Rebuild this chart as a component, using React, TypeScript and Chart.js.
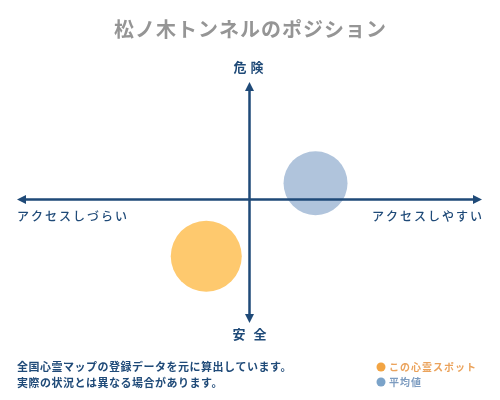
import React, { useRef, useEffect } from 'react';
import { Chart, registerables, ChartConfiguration, Plugin } from 'chart.js';

Chart.register(...registerables);

// Values (x: ease of access, y: danger)
const SERIES_LABELS = ['この心霊スポット', '平均値'];
const ACCESS_VALUES = [-18.6, 28.4];
const DANGER_VALUES = [-48.2, 13.9];

const TITLE = '松ノ木トンネルのポジション';
const Y_AXIS_LABELS = ['危険', '安全'];
const X_AXIS_LABELS = ['アクセスしづらい', 'アクセスしやすい'];
const NOTES = ['全国心霊マップの登録データを元に算出しています。', '実際の状況とは異なる場合があります。'];

const X_MIN = -100;
const X_MAX = 100;
const Y_MIN = -105;
const Y_MAX = 100;

const FONT = '"Noto Sans CJK JP", "Noto Sans", sans-serif';
const NAVY = '#1f4a78';
const ORANGE_FILL = '#fec96e';
const ORANGE_DOT = '#f2a443';
const BLUE_FILL = '#b0c4dc';
const BLUE_DOT = '#7ba3c9';

function drawText(
  ctx: CanvasRenderingContext2D,
  text: string,
  x: number,
  y: number,
  font: string,
  color: string,
  spacing: number,
  align: CanvasTextAlign = 'left'
) {
  ctx.save();
  ctx.font = font;
  ctx.fillStyle = color;
  ctx.textAlign = align;
  ctx.textBaseline = 'middle';
  (ctx as any).letterSpacing = `${spacing}px`;
  // canvas adds the spacing after the last glyph too, so shift to compensate
  let dx = 0;
  if (align === 'center') dx = spacing / 2;
  if (align === 'right') dx = spacing;
  ctx.fillText(text, x + dx, y);
  ctx.restore();
}

function arrowHead(ctx: CanvasRenderingContext2D, tipX: number, tipY: number, dirX: number, dirY: number) {
  const len = 9;
  const half = 4.5;
  const bx = tipX - dirX * len;
  const by = tipY - dirY * len;
  ctx.beginPath();
  ctx.moveTo(tipX, tipY);
  ctx.lineTo(bx - dirY * half, by + dirX * half);
  ctx.lineTo(bx + dirY * half, by - dirX * half);
  ctx.closePath();
  ctx.fill();
}

const positionPlugin: Plugin<'scatter'> = {
  id: 'positionMap',
  afterDatasetsDraw(chart) {
    const { ctx, chartArea, scales } = chart;
    const x0 = scales.x.getPixelForValue(0);
    const y0 = scales.y.getPixelForValue(0);
    ctx.save();
    ctx.strokeStyle = NAVY;
    ctx.fillStyle = NAVY;
    ctx.lineWidth = 2.5;
    ctx.beginPath();
    ctx.moveTo(chartArea.left + 6, y0);
    ctx.lineTo(chartArea.right - 6, y0);
    ctx.moveTo(x0, chartArea.top + 6);
    ctx.lineTo(x0, chartArea.bottom - 6);
    ctx.stroke();
    arrowHead(ctx, chartArea.left, y0, -1, 0);
    arrowHead(ctx, chartArea.right, y0, 1, 0);
    arrowHead(ctx, x0, chartArea.top, 0, -1);
    arrowHead(ctx, x0, chartArea.bottom, 0, 1);
    ctx.restore();

    const axisFont = `bold 13px ${FONT}`;
    drawText(ctx, Y_AXIS_LABELS[0], x0 - 1, chartArea.top - 15, axisFont, NAVY, 4, 'center');
    drawText(ctx, Y_AXIS_LABELS[1], x0, chartArea.bottom + 11, axisFont, NAVY, 8, 'center');
    const sideFont = `500 12px ${FONT}`;
    drawText(ctx, X_AXIS_LABELS[0], chartArea.left, y0 + 17, sideFont, NAVY, 2, 'left');
    drawText(ctx, X_AXIS_LABELS[1], chartArea.right, y0 + 17, sideFont, NAVY, 2, 'right');
  },
  afterDraw(chart) {
    const { ctx } = chart;
    drawText(ctx, TITLE, 250, 29, `bold 20px ${FONT}`, '#959595', 1, 'center');

    const noteFont = `bold 11px ${FONT}`;
    NOTES.forEach((line, i) => {
      drawText(ctx, line, 17, 367 + i * 16, noteFont, NAVY, 0.5, 'left');
    });

    const legendColors = [ORANGE_DOT, BLUE_DOT];
    const legendText = ['#eba35c', '#7d9cc0'];
    SERIES_LABELS.forEach((label, i) => {
      const y = 367 + i * 15;
      ctx.save();
      ctx.fillStyle = legendColors[i];
      ctx.beginPath();
      ctx.arc(381, y, 4.5, 0, Math.PI * 2);
      ctx.fill();
      ctx.restore();
      drawText(ctx, label, 389, y, `bold 10px ${FONT}`, legendText[i], 1, 'left');
    });
  },
};

const App: React.FC = () => {
  const chartRef = useRef<HTMLCanvasElement>(null);
  const chartInstance = useRef<Chart | null>(null);

  useEffect(() => {
    if (!chartRef.current) return;
    if (chartInstance.current) {
      chartInstance.current.destroy();
    }
    const ctx = chartRef.current.getContext('2d');
    if (!ctx) return;

    const points = ACCESS_VALUES.map((x, i) => ({ x, y: DANGER_VALUES[i] }));

    const config: ChartConfiguration<'scatter'> = {
      type: 'scatter',
      data: {
        datasets: [
          {
            label: SERIES_LABELS[0],
            data: [points[0]],
            pointRadius: 35.5,
            backgroundColor: ORANGE_FILL,
            borderWidth: 0,
          },
          {
            label: SERIES_LABELS[1],
            data: [points[1]],
            pointRadius: 32,
            backgroundColor: BLUE_FILL,
            borderWidth: 0,
          },
          {
            label: 'center-0',
            data: [points[0]],
            pointRadius: 2.5,
            pointStyle: 'rectRot',
            backgroundColor: '#f5a524',
            borderWidth: 0,
          },
          {
            label: 'center-1',
            data: [points[1]],
            pointRadius: 1.2,
            backgroundColor: '#1c2c44',
            borderWidth: 0,
          },
        ],
      },
      options: {
        responsive: true,
        maintainAspectRatio: false,
        animation: false,
        events: [],
        layout: {
          autoPadding: false,
          padding: { left: 17, right: 18, top: 82, bottom: 77 },
        },
        plugins: {
          legend: { display: false },
          tooltip: { enabled: false },
          title: { display: false },
        },
        scales: {
          x: { type: 'linear', min: X_MIN, max: X_MAX, display: false },
          y: { type: 'linear', min: Y_MIN, max: Y_MAX, display: false },
        },
      },
      plugins: [positionPlugin],
    };

    chartInstance.current = new Chart(ctx, config);

    return () => {
      if (chartInstance.current) {
        chartInstance.current.destroy();
        chartInstance.current = null;
      }
    };
  }, []);

  return (
    <div style={{ position: 'fixed', left: 0, top: 0, width: '500px', height: '400px', background: '#fff' }}>
      <canvas ref={chartRef} />
    </div>
  );
};

export default App;
